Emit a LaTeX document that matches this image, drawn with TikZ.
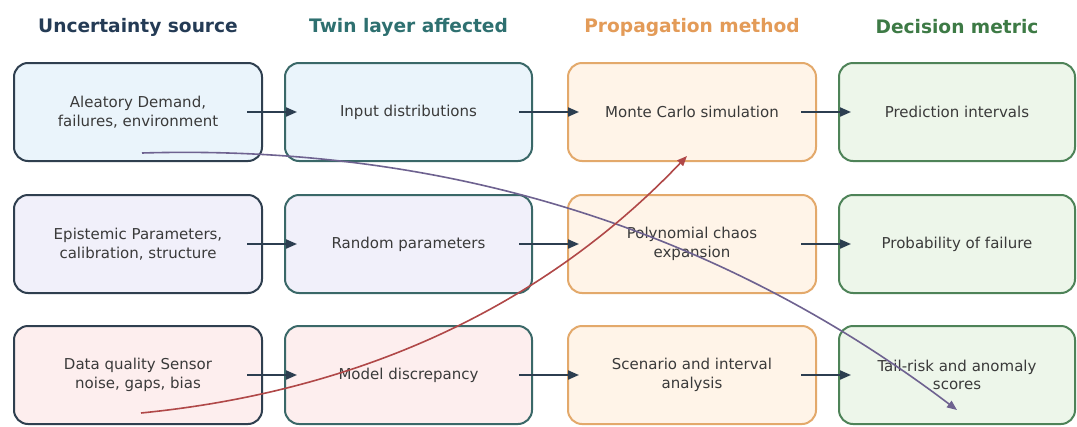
\documentclass[tikz,border=0pt]{standalone}
\usepackage{fontspec}
\setmainfont{DejaVu Sans}
\usetikzlibrary{arrows.meta,calc}
\definecolor{tA}{HTML}{243B55}
\definecolor{tB}{HTML}{2E7070}
\definecolor{tC}{HTML}{E39B58}
\definecolor{tD}{HTML}{3D7A45}
\definecolor{bA}{HTML}{2F3F4F}
\definecolor{bB}{HTML}{3A6868}
\definecolor{bC}{HTML}{E3A96B}
\definecolor{bD}{HTML}{4E8358}
\definecolor{fR1}{HTML}{EAF4FB}
\definecolor{fR2}{HTML}{F1F0FA}
\definecolor{fR3}{HTML}{FDEEEE}
\definecolor{fC}{HTML}{FFF4E8}
\definecolor{fD}{HTML}{EDF6EA}
\definecolor{txt}{HTML}{3A3A3A}
\definecolor{arr}{HTML}{2C3E50}
\definecolor{redc}{HTML}{B04848}
\definecolor{purc}{HTML}{6E6290}
\begin{document}
\begin{tikzpicture}[x=1pt,y=-1pt,
  box/.style={draw, rounded corners=14pt, line width=2pt, minimum width=248pt,
    minimum height=98pt, inner sep=0pt, align=center, text=txt,
    font=\fontsize{15}{18.5}\selectfont},
  title/.style={font=\bfseries\fontsize{18.6}{22}\selectfont, inner sep=0pt},
  flow/.style={draw=arr, line width=2pt, -{Triangle[length=11pt,width=9pt]}},
  cross/.style={line width=1.6pt, -{Triangle[length=10pt,width=8pt]}}]
\useasboundingbox (0,0) rectangle (1077,426);
\fill[white] (0,0) rectangle (1077,426);
% titles
\node[title, text=tA] (h1) at (138,27) {Uncertainty source};
\node[title, text=tB] (h2) at (408.5,27) {Twin layer affected};
\node[title, text=tC] (h3) at (692,27) {Propagation method};
\node[title, text=tD] (h4) at (957,27) {Decision metric};
% column 1
\node[box, draw=bA, fill=fR1] (a1) at (138,112) {Aleatory Demand,\\failures, environment};
\node[box, draw=bA, fill=fR2] (a2) at (138,244) {Epistemic Parameters,\\calibration, structure};
\node[box, draw=bA, fill=fR3] (a3) at (138,375) {Data quality Sensor\\noise, gaps, bias};
% column 2
\node[box, draw=bB, fill=fR1, minimum width=247pt] (b1) at (408.5,112) {Input distributions};
\node[box, draw=bB, fill=fR2, minimum width=247pt] (b2) at (408.5,244) {Random parameters};
\node[box, draw=bB, fill=fR3, minimum width=247pt] (b3) at (408.5,375) {Model discrepancy};
% column 3
\node[box, draw=bC, fill=fC] (c1) at (692,112) {Monte Carlo simulation};
\node[box, draw=bC, fill=fC] (c2) at (692,244) {Polynomial chaos\\expansion};
\node[box, draw=bC, fill=fC] (c3) at (692,375) {Scenario and interval\\analysis};
% column 4
\node[box, draw=bD, fill=fD, minimum width=236pt] (d1) at (957,112) {Prediction intervals};
\node[box, draw=bD, fill=fD, minimum width=236pt] (d2) at (957,244) {Probability of failure};
\node[box, draw=bD, fill=fD, minimum width=236pt] (d3) at (957,375) {Tail-risk and anomaly\\scores};
% row arrows
\foreach \r in {1,2,3}{
  \draw[flow] ($(a\r.east)+(-16,0)$) -- ($(b\r.west)+(13,0)$);
  \draw[flow] ($(b\r.east)+(-14,0)$) -- ($(c\r.west)+(12,0)$);
  \draw[flow] ($(c\r.east)+(-16,0)$) -- ($(d\r.west)+(13,0)$);
}
% cross links
\coordinate (ps) at ($(a1.center)+(4,41)$);
\coordinate (pe) at ($(d3.center)+(0,35)$);
\coordinate (rs) at ($(a3.center)+(3,38)$);
\coordinate (re) at ($(c1.center)+(-5,44)$);
\draw[cross, draw=purc] (ps) .. controls (447,144) and (719,230) .. (pe);
\draw[cross, draw=redc] (rs) .. controls (363,391) and (545,305) .. (re);
\end{tikzpicture}
\end{document}
